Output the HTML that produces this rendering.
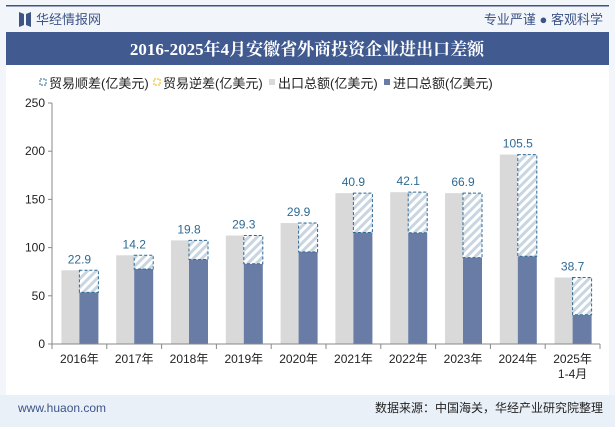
<!DOCTYPE html>
<html><head><meta charset="utf-8"><style>
body{margin:0;width:615px;height:427px;overflow:hidden;background:#fff;font-family:"Liberation Sans","Noto Sans CJK SC",sans-serif;}
</style></head><body>
<svg width="615" height="427" xmlns="http://www.w3.org/2000/svg" font-family="Liberation Sans, Noto Sans CJK SC, sans-serif">
<defs><pattern id="hatch" width="6" height="6" patternUnits="userSpaceOnUse" patternTransform="rotate(45)"><rect width="6" height="6" fill="#fff"/><rect width="3" height="6" fill="#c9d6e2"/></pattern></defs>
<rect x="0" y="0" width="615" height="427" fill="#f2f5fa"/>
<rect x="6" y="5" width="603" height="1.5" fill="#3d5487"/>
<g><path d="M19 12 L24 14 L24 25 L19 27 Z M26 14 L31 12 L31 27 L26 25 Z" fill="#3d5487"/></g>
<text x="36" y="24" font-size="13" fill="#3d5487">华经情报网</text>
<text x="603" y="24" font-size="13" fill="#3d5487" text-anchor="end">专业严谨 ● 客观科学</text>
<rect x="6" y="32" width="603" height="33" fill="#415b91"/>
<text x="307" y="55" font-size="17" font-weight="bold" fill="#fff" text-anchor="middle" font-family="Liberation Serif, Noto Serif CJK SC, serif">2016-2025年4月安徽省外商投资企业进出口差额</text>
<rect x="6" y="65" width="603" height="330" fill="#fff"/>
<g font-size="13" fill="#222">
<g><rect x="40" y="79" width="6" height="6" fill="#fff" stroke="#2e6a94" stroke-dasharray="2,1"/><text x="49" y="88">贸易顺差(亿美元)</text></g>
<g><rect x="154" y="79" width="6" height="6" fill="#fff" stroke="#f0b400" stroke-dasharray="2,1"/><text x="163" y="88">贸易逆差(亿美元)</text></g>
<g><rect x="269" y="79" width="6" height="6" fill="#d9d9d9"/><text x="278" y="88">出口总额(亿美元)</text></g>
<g><rect x="384" y="79" width="6" height="6" fill="#687ca5"/><text x="393" y="88">进口总额(亿美元)</text></g>
</g>
<g id="yaxis"></g><g id="bars"></g><g id="xaxis"></g>
<rect x="0" y="395" width="615" height="32" fill="#eaf0f8"/>
<text x="18" y="412" font-size="12" fill="#3d5487">www.huaon.com</text>
<text x="603" y="412" font-size="12" fill="#222" text-anchor="end">数据来源：中国海关，华经产业研究院整理</text>
</svg>
<script>
const categories=["2016年","2017年","2018年","2019年","2020年","2021年","2022年","2023年","2024年","2025年"];
const exportValues=[76.5,92,107.5,112.5,125.5,156.5,157.5,156.5,196.5,69];
const surplusValues=[22.9,14.2,19.8,29.3,29.9,40.9,42.1,66.9,105.5,38.7];
const yTicks=[0,50,100,150,200,250];
const NS="http://www.w3.org/2000/svg";
const x0=52,x1=600,y0=344,y1=103,band=(x1-x0)/categories.length;
const yS=v=>y0-(v/250)*(y0-y1);
function mk(t,a,p){const e=document.createElementNS(NS,t);for(const k in a)e.setAttribute(k,a[k]);p.appendChild(e);return e;}
const ya=document.getElementById('yaxis'),ba=document.getElementById('bars'),xa=document.getElementById('xaxis');
mk('line',{x1:x0,y1:y1,x2:x0,y2:y0,stroke:'#888'},ya);
yTicks.forEach(t=>{const y=yS(t);
 const tk=mk('line',{x1:x0-4,y1:y,x2:x0,y2:y,stroke:'#888'},ya);
 
 
 const tx=mk('text',{x:x0-7,y:y+4,'font-size':12,'text-anchor':'end',fill:'#222'},ya);tx.textContent=t;
 
 });
mk('line',{x1:x0,y1:y0,x2:x1,y2:y0,stroke:'#888'},xa);
categories.forEach((c,i)=>{const bx=x0+i*band,cx=bx+band/2;
 const ex=exportValues[i],im=ex-surplusValues[i];
 const g=mk('rect',{x:cx-18,y:yS(ex),width:18,height:y0-yS(ex),fill:'#d9d9d9'},ba);
 
 
 const b=mk('rect',{x:cx,y:yS(im),width:19,height:y0-yS(im),fill:'#687ca5'},ba);
 
 
 const h=mk('rect',{x:cx,y:yS(ex),width:19,height:yS(im)-yS(ex),fill:'url(#hatch)',stroke:'#2e6a94','stroke-dasharray':'3,2'},ba);
 
 
 const l=mk('text',{x:cx,y:yS(ex)-7,'font-size':12,'text-anchor':'middle',fill:'#2e6a94'},ba);l.textContent=surplusValues[i];
 
 
 mk('line',{x1:bx,y1:y0,x2:bx,y2:y0+5,stroke:'#888'},xa);
 const t=mk('text',{x:cx,y:y0+19,'font-size':12,'text-anchor':'middle',fill:'#222'},xa);t.textContent=c;
 
 
 if(i===categories.length-1){const t2=mk('text',{x:cx,y:y0+34,'font-size':12,'text-anchor':'middle',fill:'#222'},xa);t2.textContent='1-4月';
 
 }
});
mk('line',{x1:x1,y1:y0,x2:x1,y2:y0+5,stroke:'#888'},xa);
</script>
</body></html>
